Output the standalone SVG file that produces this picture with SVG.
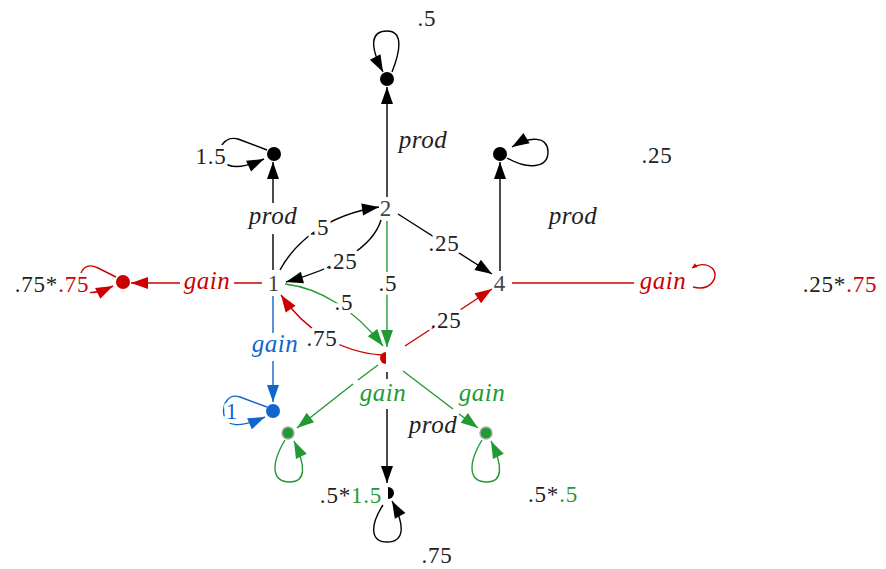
<svg xmlns="http://www.w3.org/2000/svg" width="886" height="569" viewBox="0 0 886 569">
<style>
text{font-family:"Liberation Serif","DejaVu Serif",serif;font-size:23px;fill:#222;text-anchor:middle;letter-spacing:0.8px}
.it{font-style:italic;font-size:25px;letter-spacing:0.5px}
.halo{stroke:#fff;stroke-width:8;stroke-linejoin:round;paint-order:stroke}
.k{stroke:#000;fill:none;stroke-width:1.4}
.r{stroke:#cc0000;fill:none;stroke-width:1.4}
.g{stroke:#229a33;fill:none;stroke-width:1.4}
.b{stroke:#1166cc;fill:none;stroke-width:1.4}
.nd{fill:#444}
.tr{fill:#cc0000}
.tg{fill:#229a33}
.tb{fill:#1166cc}
</style>
<defs>
<marker id="ak" markerUnits="userSpaceOnUse" markerWidth="18" markerHeight="12" refX="17" refY="6" orient="auto" overflow="visible"><path d="M0,0 L17,6 L0,12 Z" fill="#000"/></marker>
<marker id="ar" markerUnits="userSpaceOnUse" markerWidth="18" markerHeight="12" refX="17" refY="6" orient="auto" overflow="visible"><path d="M0,0 L17,6 L0,12 Z" fill="#cc0000"/></marker>
<marker id="ag" markerUnits="userSpaceOnUse" markerWidth="18" markerHeight="12" refX="17" refY="6" orient="auto" overflow="visible"><path d="M0,0 L17,6 L0,12 Z" fill="#229a33"/></marker>
<marker id="ab" markerUnits="userSpaceOnUse" markerWidth="18" markerHeight="12" refX="17" refY="6" orient="auto" overflow="visible"><path d="M0,0 L17,6 L0,12 Z" fill="#1166cc"/></marker>
<marker id="ars" markerUnits="userSpaceOnUse" markerWidth="6" markerHeight="5" refX="5" refY="2.5" orient="auto" overflow="visible"><path d="M0,0 L5,2.5 L0,5 Z" fill="#cc0000"/></marker>
</defs>
<rect width="886" height="569" fill="#fff"/>
<g id="connectors">
  <path class="k" d="M273,270 V234 M273,203 V162" marker-end="url(#ak)"/>
  <path class="k" d="M387,197 V87" marker-end="url(#ak)"/>
  <path class="k" d="M500,271 V162" marker-end="url(#ak)"/>
  <path class="k" d="M280,270 C294,244 325,215 379,207" marker-end="url(#ak)"/>
  <path class="k" d="M381,220 C372,250 330,270 286,282" marker-end="url(#ak)"/>
  <path class="k" d="M398,214 L492,274" marker-end="url(#ak)"/>
  <path class="k" d="M387,372 V379 M387,409 V483" marker-end="url(#ak)"/>
  <path class="k" d="M392,72 C400,52 404,31 387,31 C371,31 369,45 383,72" marker-end="url(#ak)"/>
  <path class="k" d="M267,150 L238,139 C225,135 215,150 222,160 C228,168 240,170 264,159" marker-end="url(#ak)"/>
  <path class="k" d="M507,158 C528,170 548,168 548,152 C548,136 530,136 512,147" marker-end="url(#ak)"/>
  <path class="k" d="M383,505 C370,525 370,542 387,542 C405,542 405,525 392,501" marker-end="url(#ak)"/>
  <path class="g" d="M387,221 V347" marker-end="url(#ag)"/>
  <path class="g" d="M285,284 C320,288 355,310 383,346" marker-end="url(#ag)"/>
  <path class="g" d="M378,365 L358,380 M353,384 L297,428" marker-end="url(#ag)"/>
  <path class="g" d="M403,371 L453,409 M459,414 L478,428" marker-end="url(#ag)"/>
  <path class="g" d="M285,440 C270,465 272,482 290,482 C306,482 306,466 294,441" marker-end="url(#ag)"/>
  <path class="g" d="M482,440 C467,465 469,482 487,482 C503,482 503,466 491,441" marker-end="url(#ag)"/>
  <path class="r" d="M262,283 H234 M180,283 H131" marker-end="url(#ar)"/>
  <path class="r" d="M382,355 C340,352 305,330 281,295" marker-end="url(#ar)"/>
  <path class="r" d="M405,346 L492,289" marker-end="url(#ar)"/>
  <path class="r" d="M512,283 H634"/>
  <path class="r" d="M116,277 L98,268 C86,262 80,270 80,280 C80,292 88,298 113,286" marker-end="url(#ar)"/>
  <path class="r" d="M693,287 C712,292 720,275 712,268 C706,263 698,264 692,268" marker-end="url(#ars)"/>
  <path class="b" d="M273,296 V333 M273,361 V402" marker-end="url(#ab)"/>
  <path class="b" d="M267,407 L240,397 C228,393 222,405 224,415 C226,427 240,428 265,417" marker-end="url(#ab)"/>
</g>
<g id="n1"><text class="nd" x="274" y="291">1</text></g>
<g id="n2"><text class="nd" x="386" y="216">2</text></g>
<g id="n4"><text class="nd" x="500" y="291">4</text></g>
<g id="dTop"><circle cx="387" cy="79" r="7" fill="#000"/></g>
<g id="dL1"><circle cx="274" cy="154" r="7" fill="#000"/></g>
<g id="dR1"><circle cx="500" cy="154" r="7" fill="#000"/></g>
<g id="dRed"><circle cx="123" cy="282" r="7" fill="#cc0000"/></g>
<g id="dBlue"><circle cx="273" cy="411" r="7" fill="#1166cc"/></g>
<g id="dGL"><circle cx="288" cy="433" r="6" fill="#229a33" stroke="#aaa" stroke-width="1.5"/></g>
<g id="dGR"><circle cx="486" cy="433" r="6" fill="#229a33" stroke="#aaa" stroke-width="1.5"/></g>
<g id="nRed"><path d="M386,352 A6,6 0 0 0 386,364 Z" fill="#cc0000"/></g>
<g id="dBot"><path d="M388,487 A6,6 0 0 1 388,499 Z" fill="#000"/></g>
<g id="labels">
  <text x="427" y="26">.5</text>
  <text class="halo" x="211" y="164">1.5</text>
  <text x="657" y="163">.25</text>
  <text class="it" x="273" y="224">prod</text>
  <text class="it" x="423" y="148">prod</text>
  <text class="it" x="573" y="224">prod</text>
  <text class="halo" x="320" y="235">.5</text>
  <text class="halo" x="342" y="269">.25</text>
  <text class="halo" x="444" y="251">.25</text>
  <text class="halo" x="388" y="291">.5</text>
  <text class="halo" x="344" y="310">.5</text>
  <text class="halo" x="322" y="346">.75</text>
  <text class="halo" x="446" y="328">.25</text>
  <text class="it tr" x="207" y="289">gain</text>
  <text class="it tr" x="663" y="289">gain</text>
  <text class="it tb" x="275" y="352">gain</text>
  <text class="it tg" x="383" y="401">gain</text>
  <text class="it tg" x="482" y="401">gain</text>
  <text class="it" x="433" y="433">prod</text>
  <text class="halo" x="52" y="292">.75*<tspan class="tr">.75</tspan></text>
  <text x="840" y="292">.25*<tspan class="tr">.75</tspan></text>
  <text class="halo" x="232" y="419"><tspan class="tb">1</tspan></text>
  <text x="351" y="503">.5*<tspan class="tg">1.5</tspan></text>
  <text x="553" y="502">.5*<tspan class="tg">.5</tspan></text>
  <text x="437" y="563">.75</text>
</g>
</svg>
